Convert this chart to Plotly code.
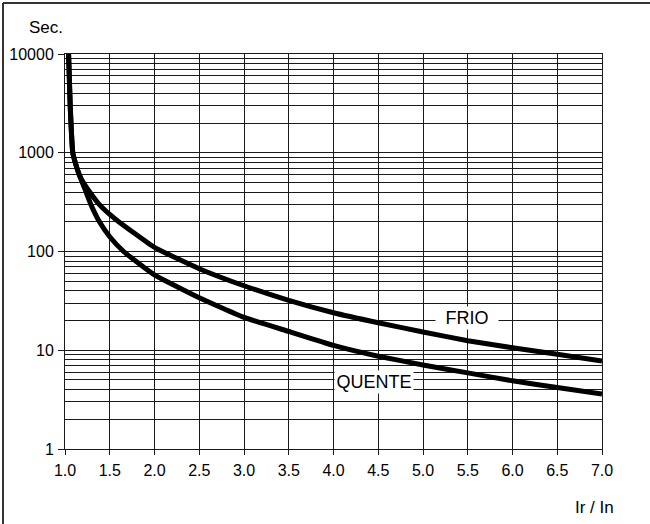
import plotly.graph_objects as go

# ---- data ----
frio_x = [1.04, 1.058, 1.087, 1.114, 1.159, 1.21, 1.29, 1.382, 1.5, 1.6, 2.0, 2.5,
          3.0, 3.5, 4.0, 4.5, 5.0, 5.5, 6.0, 6.5, 7.0]
frio_y = [10000, 3000, 1000, 800, 600, 490, 385, 300, 237, 200, 110, 67,
          45, 32, 24, 19, 15.3, 12.5, 10.6, 9.1, 7.8]

quente_x = [1.04, 1.058, 1.087, 1.114, 1.159, 1.222, 1.289, 1.385, 1.5, 1.655,
            2.0, 2.5, 3.0, 3.5, 4.0, 4.5, 5.0, 5.5, 6.0, 6.5, 7.0]
quente_y = [10000, 3000, 1000, 800, 600, 430, 300, 200, 141, 100,
            58, 34, 21.5, 15.5, 11.2, 8.7, 7.1, 5.9, 4.9, 4.2, 3.6]

x_ticks = [1.0, 1.5, 2.0, 2.5, 3.0, 3.5, 4.0, 4.5, 5.0, 5.5, 6.0, 6.5, 7.0]
y_major = [1, 10, 100, 1000, 10000]
y_minor = [m * d for d in [1, 10, 100, 1000] for m in range(2, 10)]

FONT = "Liberation Sans, Arial, sans-serif"
GRID = "#1a1a1a"

fig = go.Figure()
fig.add_trace(go.Scatter(x=frio_x, y=frio_y, mode="lines", name="FRIO",
                         line=dict(color="black", width=5, shape="spline", smoothing=0.4)))
fig.add_trace(go.Scatter(x=quente_x, y=quente_y, mode="lines", name="QUENTE",
                         line=dict(color="black", width=5, shape="spline", smoothing=0.4)))

fig.update_layout(
    width=650, height=524,
    margin=dict(l=65, r=48, t=54, b=75, autoexpand=False),
    paper_bgcolor="white", plot_bgcolor="white",
    showlegend=False,
    font=dict(family=FONT, size=16, color="black"),
    xaxis=dict(range=[1, 7], tickvals=x_ticks, ticktext=[f"{v:.1f}" for v in x_ticks],
               showgrid=True, gridcolor=GRID, gridwidth=1,
               showline=True, linecolor=GRID, linewidth=1, mirror=True,
               ticks="outside", ticklen=5, tickcolor=GRID, zeroline=False,
               automargin=False, ticklabelstandoff=2),
    yaxis=dict(type="log", range=[0, 4], tickvals=y_major,
               ticktext=[str(v) for v in y_major],
               showgrid=True, gridcolor=GRID, gridwidth=1,
               showline=True, linecolor=GRID, linewidth=1, mirror=True,
               ticks="outside", ticklen=6, tickcolor=GRID, zeroline=False,
               automargin=False, ticklabelstandoff=1,
               minor=dict(tickvals=y_minor, showgrid=True, gridcolor=GRID,
                          gridwidth=1, ticks="")),
)

fig.add_annotation(x=5.49, y=1.331, xref="x", yref="y", text="FRIO", showarrow=False,
                   xanchor="center", yanchor="middle",
                   font=dict(size=18, family=FONT), bgcolor="white", width=60, borderpad=1)
fig.add_annotation(x=4.45, y=0.678, xref="x", yref="y", text="QUENTE", showarrow=False,
                   xanchor="center", yanchor="middle",
                   font=dict(size=18, family=FONT), bgcolor="white", width=76, borderpad=1)
fig.add_annotation(x=(46 - 65) / 537, y=1 + (54 - 27) / 395, xref="paper", yref="paper",
                   xanchor="center", yanchor="middle",
                   text="Sec.", showarrow=False, font=dict(size=17, family=FONT))
fig.add_annotation(x=(594 - 65) / 537, y=(449 - 508) / 395, xref="paper", yref="paper",
                   xanchor="center", yanchor="middle",
                   text="Ir / In", showarrow=False, font=dict(size=17, family=FONT))

# outer frame (top and left edges visible in the scan)
TOP = 1 + (54 - 3) / 395
LEFT = (3 - 65) / 537
fig.add_shape(type="line", xref="paper", yref="paper",
              x0=LEFT, x1=1.2, y0=TOP, y1=TOP, line=dict(color="#333", width=2))
fig.add_shape(type="line", xref="paper", yref="paper",
              x0=LEFT, x1=LEFT, y0=TOP, y1=-0.3, line=dict(color="#333", width=2))

fig.write_html("out.html", config={"displayModeBar": False},
               post_script="document.body.style.margin='0';document.body.style.overflow='hidden';")
